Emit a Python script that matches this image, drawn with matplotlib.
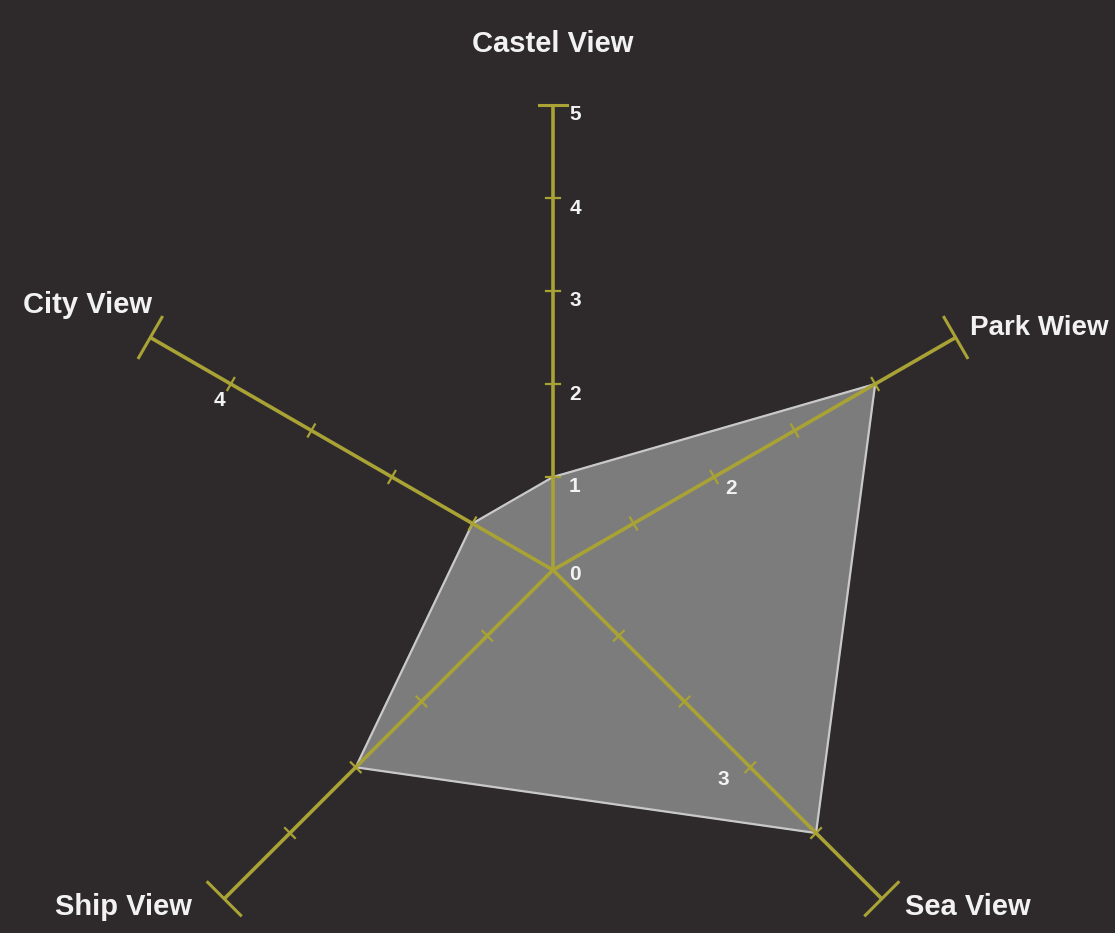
import numpy as np
import matplotlib.pyplot as plt

# radar data
categories = ["Castel View", "Park Wiew", "Sea View", "Ship View", "City View"]
values = [1, 4, 4, 3, 1]
angles_deg = [90, 30, -45, -135, 150]
max_value = 5

# which tick number is printed on which spoke (spoke index, value)
tick_labels = [(0, 0), (0, 1), (0, 2), (0, 3), (0, 4), (0, 5),
               (1, 2), (2, 3), (4, 4)]

BG = "#2e2a2b"
AXIS = "#a9a235"
FILL = "#7c7c7c"
EDGE = "#c9c9c9"
TXT = "#f2f2f2"

plt.rcParams['font.family'] = ['Liberation Sans', 'DejaVu Sans']

fig = plt.figure(figsize=(11.15, 9.33), dpi=100, facecolor=BG)
ax = fig.add_axes([0, 0, 1, 1])
ax.set_facecolor(BG)
unit = 93.0
ax.set_xlim(-553 / unit, (1115 - 553) / unit)
ax.set_ylim(-(933 - 570) / unit, 570 / unit)
ax.set_aspect('equal')
ax.axis('off')

ang = np.radians(angles_deg)
ux, uy = np.cos(ang), np.sin(ang)

# data polygon
px = np.array(values) * ux
py = np.array(values) * uy
ax.fill(px, py, color=FILL, zorder=1)
ax.plot(np.append(px, px[0]), np.append(py, py[0]), color=EDGE, lw=1.6, zorder=2)

# spokes with ticks and end caps
for i in range(len(categories)):
    ax.plot([0, max_value * ux[i]], [0, max_value * uy[i]], color=AXIS, lw=2.6,
            solid_capstyle='butt', zorder=3)
    nx, ny = -uy[i], ux[i]
    for v in range(1, max_value):
        cx, cy = v * ux[i], v * uy[i]
        h = 0.075
        ax.plot([cx - h * nx, cx + h * nx], [cy - h * ny, cy + h * ny],
                color=AXIS, lw=1.6, zorder=3)
    cx, cy = max_value * ux[i], max_value * uy[i]
    h = 0.15 if angles_deg[i] == 90 else 0.25
    ax.plot([cx - h * nx, cx + h * nx], [cy - h * ny, cy + h * ny],
            color=AXIS, lw=2.2, zorder=3)

# tick numbers
offsets = {0: (22, -10), 1: (17, -12), 2: (-27, -12), 4: (-11, -16)}
for i, v in tick_labels:
    dx, dy = offsets[i]
    if i == 0 and v == 0:
        dy = -5
    ax.annotate(str(v), (v * ux[i], v * uy[i]), xytext=(dx * 0.72, dy * 0.72),
                textcoords='offset points', color=TXT, fontsize=15,
                fontweight='bold', ha='center', va='center', zorder=4)

# category labels (pixel anchors converted to data units)
label_pos = [(553, 44, 'center', 21), (970, 328, 'left', 20),
             (905, 907, 'left', 21), (192, 907, 'right', 21),
             (152, 305, 'right', 21)]
for name, (lx, ly, ha, fs) in zip(categories, label_pos):
    ax.text((lx - 553) / unit, (570 - ly) / unit, name, color=TXT,
            fontsize=fs, fontweight='bold', ha=ha, va='center', zorder=4)

fig.savefig("out.png", dpi=100, facecolor=BG)
